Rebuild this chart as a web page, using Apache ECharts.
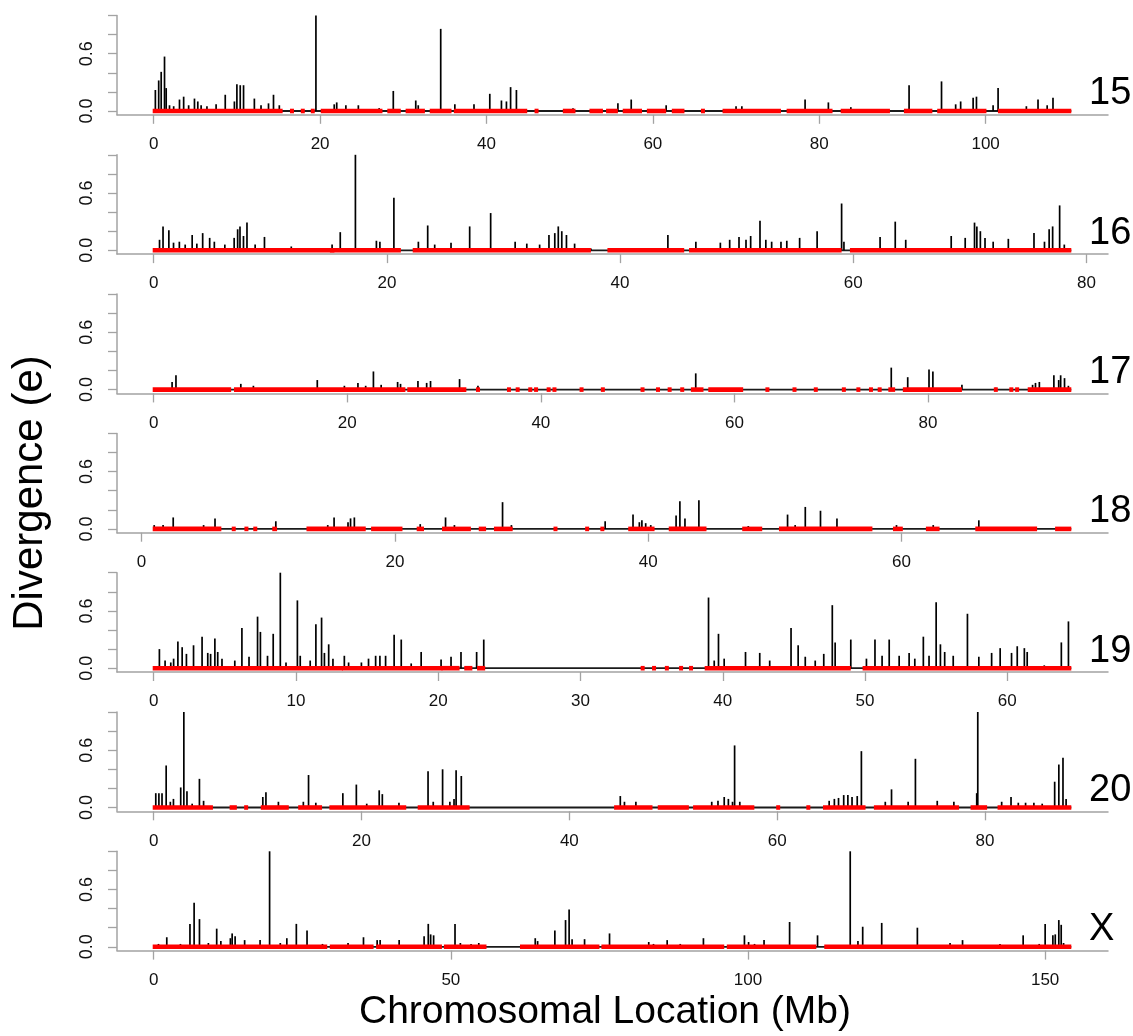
<!DOCTYPE html>
<html>
<head>
<meta charset="utf-8">
<script src="https://cdn.jsdelivr.net/npm/echarts@6/dist/echarts.min.js"></script>
<style>
  html, body { margin: 0; padding: 0; background: #ffffff; }
  #chart { width: 1133px; height: 1036px; }
</style>
</head>
<body>
<div id="chart"></div>
<script>
// Chromosome panels, top to bottom
const chromosomes = ['15', '16', '17', '18', '19', '20', 'X'];
// First and last mapped position of each chromosome (Mb)
const chromStart = [0, 0, 0, 0.96, 0, 0, 0];
const chromLength = [110.3, 78.7, 94.8, 73.4, 64.5, 88.3, 154.4];
// Spacing of the x tick labels for each panel (Mb)
const tickStep = [20, 20, 20, 20, 10, 20, 50];
// Divergence ticks and the labels printed among them
const yTicks = [0, 0.2, 0.4, 0.6, 0.8, 1.0];
const yLabels = [0, 0.6];

// Divergence peaks: [position (Mb), e]
const peaks15 = [[0.2,0.22],[0.6,0.32],[0.9,0.41],[1.3,0.57],[1.5,0.24],[1.9,0.06],[2.4,0.05],[3.1,0.12],[3.6,0.15],[4.2,0.06],[4.9,0.13],[5.3,0.1],[5.7,0.06],[6.4,0.05],[7.5,0.07],[8.6,0.17],[9.7,0.1],[10.0,0.28],[10.4,0.27],[10.8,0.27],[12.1,0.13],[12.9,0.06],[13.8,0.08],[14.4,0.17],[15.1,0.06],[19.5,1.0],[21.7,0.07],[22.0,0.09],[23.1,0.06],[24.6,0.06],[27.1,0.03],[28.8,0.21],[31.5,0.11],[31.8,0.06],[34.5,0.86],[36.2,0.07],[38.5,0.07],[40.4,0.18],[41.8,0.11],[42.4,0.1],[42.9,0.25],[43.6,0.22],[50.4,0.03],[55.8,0.08],[57.4,0.12],[61.6,0.06],[70.0,0.05],[70.7,0.05],[78.3,0.12],[81.1,0.09],[83.8,0.04],[90.8,0.27],[94.7,0.31],[96.4,0.07],[97.0,0.1],[98.5,0.14],[98.9,0.15],[100.9,0.06],[101.5,0.24],[104.9,0.05],[106.3,0.12],[107.4,0.06],[108.1,0.14]];
const peaks16 = [[0.5,0.11],[0.8,0.25],[1.3,0.21],[1.7,0.08],[2.2,0.09],[2.7,0.06],[3.3,0.16],[3.7,0.07],[4.2,0.18],[4.8,0.13],[5.2,0.09],[6.1,0.06],[6.9,0.13],[7.2,0.22],[7.4,0.25],[7.7,0.15],[8.0,0.29],[8.7,0.06],[9.5,0.14],[11.8,0.04],[15.3,0.06],[16.0,0.19],[17.3,1.0],[19.1,0.1],[19.4,0.09],[20.6,0.55],[22.7,0.09],[23.5,0.26],[24.1,0.06],[25.5,0.08],[27.1,0.25],[28.9,0.39],[31.0,0.09],[32.0,0.07],[33.1,0.06],[33.9,0.16],[34.4,0.18],[34.7,0.25],[35.0,0.2],[35.4,0.16],[36.1,0.07],[37.5,0.02],[44.1,0.16],[46.5,0.09],[48.6,0.08],[49.4,0.11],[50.2,0.14],[50.8,0.11],[51.2,0.15],[52.0,0.31],[52.5,0.11],[53.0,0.09],[53.8,0.09],[54.3,0.1],[55.4,0.13],[56.9,0.2],[59.0,0.49],[59.2,0.09],[62.3,0.14],[63.6,0.3],[64.5,0.11],[68.4,0.15],[69.6,0.13],[70.4,0.29],[70.6,0.25],[70.9,0.2],[71.3,0.13],[72.0,0.09],[73.3,0.12],[75.5,0.18],[76.4,0.09],[76.8,0.22],[77.1,0.25],[77.7,0.47],[78.1,0.06]];
const peaks17 = [[1.9,0.08],[2.3,0.15],[9.0,0.06],[10.3,0.04],[16.9,0.1],[19.7,0.04],[21.1,0.07],[21.9,0.04],[22.7,0.19],[23.5,0.05],[25.2,0.08],[25.5,0.06],[27.3,0.09],[28.2,0.07],[28.6,0.09],[31.6,0.11],[33.5,0.04],[56.0,0.17],[76.2,0.23],[77.9,0.13],[80.1,0.21],[80.5,0.19],[83.5,0.05],[87.0,0.02],[90.8,0.05],[91.1,0.07],[91.5,0.08],[93.0,0.15],[93.5,0.1],[93.7,0.15],[94.1,0.12],[94.5,0.04]];
const peaks18 = [[1.0,0.04],[1.7,0.04],[2.5,0.12],[4.9,0.04],[5.8,0.11],[10.6,0.08],[14.7,0.04],[15.2,0.12],[16.3,0.07],[16.5,0.11],[16.8,0.12],[22.0,0.05],[24.0,0.12],[24.7,0.04],[28.5,0.28],[29.2,0.04],[36.6,0.08],[38.8,0.15],[39.3,0.07],[39.5,0.09],[39.8,0.06],[40.2,0.04],[42.2,0.14],[42.5,0.29],[42.9,0.11],[44.0,0.3],[47.9,0.03],[51.0,0.15],[51.6,0.04],[52.4,0.23],[53.6,0.19],[54.9,0.11],[59.6,0.04],[62.5,0.04],[66.1,0.09]];
const peaks19 = [[0.4,0.2],[0.8,0.08],[1.2,0.06],[1.4,0.1],[1.7,0.28],[2.0,0.22],[2.3,0.15],[2.8,0.24],[3.4,0.33],[3.8,0.16],[4.0,0.15],[4.3,0.31],[4.5,0.17],[4.8,0.1],[5.7,0.08],[6.2,0.42],[6.7,0.12],[7.3,0.54],[7.5,0.38],[8.0,0.13],[8.4,0.36],[8.9,1.0],[9.3,0.06],[10.1,0.71],[10.3,0.13],[11.0,0.08],[11.4,0.46],[11.8,0.53],[12.0,0.16],[12.3,0.25],[12.6,0.1],[13.4,0.13],[13.7,0.06],[14.6,0.06],[15.1,0.1],[15.6,0.13],[15.9,0.13],[16.3,0.13],[16.9,0.35],[17.4,0.3],[18.1,0.05],[18.8,0.17],[20.2,0.09],[20.9,0.12],[21.6,0.17],[22.7,0.17],[23.2,0.3],[39.0,0.74],[39.4,0.08],[39.7,0.36],[40.1,0.1],[41.6,0.17],[42.6,0.16],[43.3,0.08],[44.8,0.42],[45.3,0.24],[45.8,0.12],[46.5,0.08],[47.1,0.15],[47.7,0.66],[47.9,0.27],[49.0,0.3],[50.1,0.1],[50.7,0.3],[51.2,0.13],[51.7,0.3],[52.4,0.13],[53.1,0.16],[53.5,0.1],[54.1,0.33],[54.5,0.13],[55.0,0.69],[55.3,0.25],[55.6,0.17],[56.2,0.13],[57.2,0.57],[58.0,0.12],[58.9,0.16],[59.5,0.21],[60.3,0.16],[60.7,0.23],[61.2,0.21],[61.4,0.17],[62.6,0.03],[63.8,0.27],[64.3,0.49]];
const peaks20 = [[0.2,0.15],[0.5,0.15],[0.8,0.15],[1.2,0.44],[1.6,0.06],[1.9,0.09],[2.6,0.21],[2.9,1.0],[3.2,0.17],[3.7,0.04],[4.4,0.3],[4.8,0.07],[10.5,0.11],[10.8,0.16],[12.0,0.06],[14.4,0.06],[14.9,0.34],[15.6,0.05],[18.2,0.15],[19.5,0.24],[20.5,0.04],[21.7,0.18],[22.0,0.14],[23.6,0.05],[26.4,0.38],[26.9,0.06],[27.8,0.4],[28.5,0.06],[28.9,0.09],[29.1,0.39],[29.6,0.33],[44.9,0.12],[45.3,0.06],[46.4,0.06],[53.7,0.06],[54.3,0.07],[54.9,0.11],[55.3,0.09],[55.7,0.06],[55.9,0.65],[56.4,0.06],[65.0,0.07],[65.5,0.09],[65.9,0.1],[66.4,0.13],[66.8,0.13],[67.2,0.11],[67.7,0.12],[68.1,0.59],[70.4,0.06],[71.0,0.19],[72.6,0.06],[73.3,0.51],[75.4,0.07],[77.0,0.06],[79.2,0.15],[79.3,1.0],[81.6,0.06],[82.5,0.11],[83.2,0.05],[83.9,0.05],[84.7,0.05],[85.5,0.04],[86.7,0.27],[87.1,0.45],[87.5,0.52],[87.8,0.09]];
const peaksX = [[0.8,0.03],[2.2,0.1],[4.5,0.03],[6.1,0.24],[6.8,0.46],[7.7,0.29],[9.2,0.04],[10.6,0.19],[11.3,0.06],[12.9,0.09],[13.2,0.14],[13.7,0.11],[15.3,0.07],[17.9,0.07],[19.5,1.0],[21.3,0.04],[22.4,0.09],[24.0,0.24],[25.8,0.17],[28.4,0.03],[32.7,0.04],[35.3,0.1],[37.6,0.07],[38.1,0.07],[41.3,0.07],[45.5,0.11],[46.2,0.24],[46.6,0.13],[47.1,0.12],[50.7,0.24],[51.6,0.04],[53.4,0.03],[54.7,0.04],[64.2,0.09],[64.6,0.06],[67.5,0.17],[69.3,0.28],[69.9,0.39],[70.4,0.08],[72.5,0.08],[76.7,0.14],[83.3,0.05],[84.1,0.03],[86.4,0.07],[88.6,0.03],[92.5,0.09],[99.4,0.12],[100.1,0.05],[101.1,0.03],[102.7,0.07],[107.0,0.26],[111.7,0.12],[117.2,1.0],[118.5,0.06],[119.3,0.21],[122.5,0.25],[128.5,0.2],[134.0,0.04],[136.1,0.07],[142.4,0.03],[146.3,0.12],[149.0,0.03],[150.0,0.24],[151.3,0.12],[151.7,0.13],[152.3,0.28],[152.7,0.23],[153.1,0.04]];

// Runs of sites with zero divergence: [start (Mb), end (Mb)]
const zeroRuns15 = [[0,15.5],[16.5,16.7],[17.8,18.0],[19.0,19.2],[20.2,27.5],[28.2,29.7],[30.4,32.6],[33.3,35.8],[36.2,44.9],[45.9,46.1],[49.3,50.7],[52.5,54.0],[54.5,55.8],[56.5,58.7],[59.4,61.6],[62.4,63.8],[65.9,66.1],[68.5,75.4],[76.2,81.6],[82.7,88.5],[90.3,93.6],[94.3,100.1],[101.6,110.3]];
const zeroRuns16 = [[0,15.5],[15.2,21.2],[22.3,37.5],[39.0,45.5],[46.0,59.0],[59.8,78.7]];
const zeroRuns17 = [[0,8.0],[8.4,26.0],[26.3,32.3],[33.4,33.6],[36.6,36.8],[37.5,37.7],[38.8,39.0],[39.4,39.6],[40.7,40.9],[41.3,41.5],[44.1,44.3],[46.3,46.5],[50.4,50.6],[52.0,52.2],[53.2,53.4],[54.5,54.7],[55.6,56.8],[57.4,60.9],[63.3,63.5],[66.1,66.3],[68.3,68.5],[71.2,71.4],[72.7,72.9],[74.0,74.2],[74.9,75.1],[76.0,76.6],[77.5,83.5],[86.9,87.1],[88.5,88.7],[89.1,89.3],[90.4,94.8]];
const zeroRuns18 = [[0.96,6.3],[7.2,7.4],[8.2,8.4],[8.9,9.1],[10.4,10.7],[13.1,17.7],[18.2,20.6],[21.8,22.3],[23.8,26.0],[26.7,27.2],[27.9,29.3],[32.6,32.8],[35.1,35.3],[36.3,36.5],[38.5,40.5],[41.7,44.6],[47.5,49.0],[50.4,57.7],[59.4,60.1],[62.0,63.0],[65.9,70.7],[72.2,73.4]];
const zeroRuns19 = [[0,13.3],[13.3,20.3],[20.3,21.5],[21.9,22.4],[22.8,23.3],[34.3,34.5],[35.1,35.3],[36.0,36.2],[37.0,37.2],[37.7,37.9],[38.8,49.0],[49.9,64.5]];
const zeroRuns20 = [[0,5.7],[7.4,8.0],[8.8,9.0],[10.4,13.0],[14.0,16.2],[17.0,24.3],[25.5,30.4],[44.4,48.0],[48.6,51.5],[52.0,57.8],[60.0,60.2],[62.9,63.1],[64.5,68.5],[69.4,77.5],[78.7,80.2],[81.3,88.3]];
const zeroRunsX = [[0,29.2],[29.8,37.0],[37.6,48.5],[49.0,56.0],[61.8,75.0],[75.5,96.0],[96.6,111.5],[113.0,154.4]];

const peakSets = [peaks15, peaks16, peaks17, peaks18, peaks19, peaks20, peaksX];
const zeroSets = [zeroRuns15, zeroRuns16, zeroRuns17, zeroRuns18, zeroRuns19, zeroRuns20, zeroRunsX];

// ---- layout ----
const FONT = '"Liberation Sans", Arial, Helvetica, sans-serif';
const AXIS_GREY = '#a3a3a3';
const PANEL_STEP = 139.3;      // vertical distance between panels
const ZERO_Y0 = 111;           // pixel row of e = 0 in the first panel
const UNIT_H = 95.5;           // pixels per unit of e
const PLOT_LEFT = 117, PLOT_RIGHT = 1108;
const Y_MIN = -0.04, Y_MAX = 1.0;
const PAD = 0.04;              // share of the data range left free on each side

const grids = [], xAxes = [], yAxes = [], series = [], graphics = [];

chromosomes.forEach((name, i) => {
  const s = chromStart[i], L = chromLength[i];
  const span = L - s;
  const xMin = s - PAD * span, xMax = L + PAD * span;
  const zeroY = ZERO_Y0 + i * PANEL_STEP;
  const top = zeroY - Y_MAX * UNIT_H;
  const height = (Y_MAX - Y_MIN) * UNIT_H;
  grids.push({ left: PLOT_LEFT, width: PLOT_RIGHT - PLOT_LEFT, top: top, height: height });

  const xTicks = [];
  for (let v = 0; v <= xMax + 1e-9; v += tickStep[i]) xTicks.push(v);

  xAxes.push({
    type: 'value', gridIndex: i, min: xMin, max: xMax,
    axisLine: { show: true, onZero: false, lineStyle: { color: AXIS_GREY, width: 1.5 } },
    axisTick: { show: true, customValues: xTicks, length: 9, lineStyle: { color: AXIS_GREY, width: 1.3 } },
    axisLabel: { show: true, customValues: xTicks, margin: 21, fontSize: 17, color: '#111', fontFamily: FONT },
    splitLine: { show: false }
  });
  yAxes.push({
    type: 'value', gridIndex: i, min: Y_MIN, max: Y_MAX,
    axisLine: { show: true, onZero: false, lineStyle: { color: AXIS_GREY, width: 1.5 } },
    axisTick: { show: true, customValues: yTicks, length: 9, lineStyle: { color: AXIS_GREY, width: 1.3 } },
    axisLabel: { show: true, customValues: yLabels, rotate: 90, margin: 21, fontSize: 18, color: '#111',
                 fontFamily: FONT, formatter: v => v.toFixed(1) },
    splitLine: { show: false }
  });

  // black baseline along the mapped extent of the chromosome
  series.push({
    type: 'line', xAxisIndex: i, yAxisIndex: i, data: [[s, 0], [L, 0]],
    symbol: 'none', silent: true, animation: false, z: 1,
    lineStyle: { color: '#1a1a1a', width: 1.8 }
  });
  // divergence peaks drawn as vertical needles
  series.push({
    type: 'custom', xAxisIndex: i, yAxisIndex: i, data: peakSets[i], animation: false, silent: true,
    z: 2, encode: { x: 0, y: 1 },
    renderItem: (params, api) => {
      const a = api.coord([api.value(0), 0]);
      const b = api.coord([api.value(0), api.value(1)]);
      return { type: 'line', shape: { x1: a[0], y1: a[1], x2: b[0], y2: b[1] },
               style: { stroke: '#000', lineWidth: 1.7 } };
    }
  });
  // zero-divergence runs in red, over the baseline
  series.push({
    type: 'custom', xAxisIndex: i, yAxisIndex: i,
    data: zeroSets[i].map(r => [r[0], r[1], 0]), animation: false, silent: true,
    z: 5, encode: { x: [0, 1], y: 2 },
    renderItem: (params, api) => {
      const a = api.coord([api.value(0), 0.024]);
      const b = api.coord([api.value(1), -0.024]);
      const w = Math.max(b[0] - a[0], 3);
      return { type: 'rect', shape: { x: a[0] - 1, y: a[1], width: w + 1, height: b[1] - a[1] },
               style: { fill: '#ff0000', stroke: null } };
    }
  });

  // chromosome name at the right end of the panel
  graphics.push({
    type: 'text', left: 1089, top: zeroY - 36,
    style: { text: name, font: '38px ' + FONT, fill: '#000' }
  });
});

graphics.push({
  type: 'text', x: 30, y: 493, rotation: Math.PI / 2,
  style: { text: 'Divergence (e)', font: '42px ' + FONT, fill: '#000', align: 'center', verticalAlign: 'middle' }
});
graphics.push({
  type: 'text', x: 605, y: 1012,
  style: { text: 'Chromosomal Location (Mb)', font: '39px ' + FONT, fill: '#000', align: 'center', verticalAlign: 'middle' }
});

const chart = echarts.init(document.getElementById('chart'), null, { renderer: 'canvas' });
chart.setOption({
  backgroundColor: '#ffffff',
  animation: false,
  grid: grids, xAxis: xAxes, yAxis: yAxes, series: series,
  graphic: graphics
});
</script>
</body>
</html>
